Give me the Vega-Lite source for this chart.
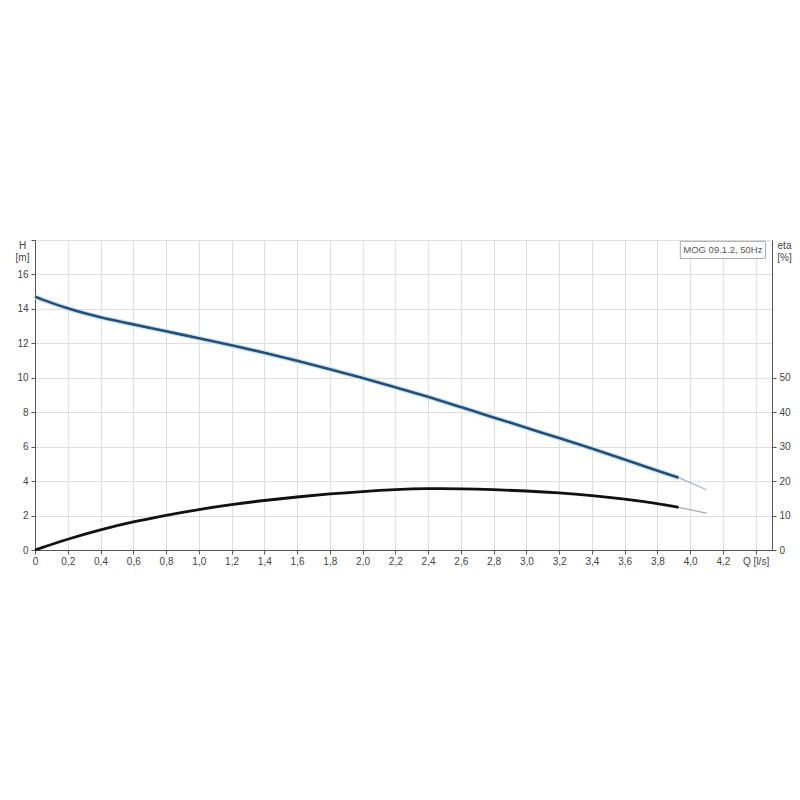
{
  "$schema": "https://vega.github.io/schema/vega-lite/v6.json",
  "autosize": {"type": "none"},
  "padding": {"left": 35, "top": 240, "right": 28, "bottom": 250},
  "width": 737,
  "height": 310,
  "background": "white",
  "config": {
    "font": "Liberation Sans",
    "view": {"stroke": null},
    "axis": {"labelFont": "Liberation Sans", "titleFont": "Liberation Sans", "labelFontSize": 10, "labelColor": "#444", "titleColor": "#444", "titleFontSize": 10, "titleFontWeight": "normal", "domainColor": "#555", "tickColor": "#555", "gridColor": "#dedede", "gridWidth": 1, "labelOverlap": false}
  },
  "datasets": {
    "H": [
      {"Q": 0, "H": 14.7, "seg": "main"},
      {"Q": 0.2, "H": 14.0, "seg": "main"},
      {"Q": 0.4, "H": 13.5, "seg": "main"},
      {"Q": 0.6, "H": 13.1, "seg": "main"},
      {"Q": 0.8, "H": 12.7, "seg": "main"},
      {"Q": 1.0, "H": 12.3, "seg": "main"},
      {"Q": 1.2, "H": 11.9, "seg": "main"},
      {"Q": 1.4, "H": 11.45, "seg": "main"},
      {"Q": 1.6, "H": 11.0, "seg": "main"},
      {"Q": 1.8, "H": 10.5, "seg": "main"},
      {"Q": 2.0, "H": 10.0, "seg": "main"},
      {"Q": 2.2, "H": 9.45, "seg": "main"},
      {"Q": 2.4, "H": 8.9, "seg": "main"},
      {"Q": 2.6, "H": 8.3, "seg": "main"},
      {"Q": 2.8, "H": 7.7, "seg": "main"},
      {"Q": 3.0, "H": 7.1, "seg": "main"},
      {"Q": 3.2, "H": 6.5, "seg": "main"},
      {"Q": 3.4, "H": 5.9, "seg": "main"},
      {"Q": 3.6, "H": 5.25, "seg": "main"},
      {"Q": 3.8, "H": 4.6, "seg": "main"},
      {"Q": 3.93, "H": 4.2, "seg": "main"},
      {"Q": 3.93, "H": 4.2, "seg": "ext"},
      {"Q": 4.1, "H": 3.5, "seg": "ext"}
    ],
    "eta": [
      {"Q": 0, "eta": 0, "seg": "main"},
      {"Q": 0.2, "eta": 3.2, "seg": "main"},
      {"Q": 0.4, "eta": 5.9, "seg": "main"},
      {"Q": 0.6, "eta": 8.2, "seg": "main"},
      {"Q": 0.8, "eta": 10.1, "seg": "main"},
      {"Q": 1.0, "eta": 11.8, "seg": "main"},
      {"Q": 1.2, "eta": 13.2, "seg": "main"},
      {"Q": 1.4, "eta": 14.4, "seg": "main"},
      {"Q": 1.6, "eta": 15.4, "seg": "main"},
      {"Q": 1.8, "eta": 16.3, "seg": "main"},
      {"Q": 2.0, "eta": 17.0, "seg": "main"},
      {"Q": 2.2, "eta": 17.55, "seg": "main"},
      {"Q": 2.4, "eta": 17.85, "seg": "main"},
      {"Q": 2.6, "eta": 17.8, "seg": "main"},
      {"Q": 2.8, "eta": 17.55, "seg": "main"},
      {"Q": 3.0, "eta": 17.15, "seg": "main"},
      {"Q": 3.2, "eta": 16.6, "seg": "main"},
      {"Q": 3.4, "eta": 15.8, "seg": "main"},
      {"Q": 3.6, "eta": 14.8, "seg": "main"},
      {"Q": 3.8, "eta": 13.5, "seg": "main"},
      {"Q": 3.93, "eta": 12.4, "seg": "main"},
      {"Q": 3.93, "eta": 12.4, "seg": "ext"},
      {"Q": 4.1, "eta": 10.7, "seg": "ext"}
    ],
    "label": [
      {"Q": 3.94, "Q2": 4.46, "H": 16.93, "H2": 17.92, "text": "MOG 09.1.2, 50Hz"}
    ]
  },
  "encoding": {
    "x": {"field": "Q", "type": "quantitative", "scale": {"domain": [0, 4.5], "nice": false},
      "axis": {"values": [0,0.2,0.4,0.6,0.8,1.0,1.2,1.4,1.6,1.8,2.0,2.2,2.4,2.6,2.8,3.0,3.2,3.4,3.6,3.8,4.0,4.2,4.4], "title": null, "labelExpr": "datum.value > 4.3 ? 'Q [l/s]' : (datum.value == 0 ? '0' : replace(format(datum.value, '.1f'), '.', ','))", "tickSize": 4, "labelPadding": 2, "labelFlush": false, "labelOverlap": false}}
  },
  "layer": [
    {
      "data": {"name": "H"},
      "encoding": {
        "y": {"field": "H", "type": "quantitative", "scale": {"domain": [0, 18], "nice": false},
          "axis": {"values": [0,2,4,6,8,10,12,14,16,18], "labelExpr": "datum.value == 18 ? '' : datum.label", "labelOverlap": false, "tickSize": 4, "labelPadding": 3, "title": ["H", "[m]"], "titleAngle": 0, "titleX": -13, "titleY": 0, "titleAlign": "center", "titleBaseline": "top", "titleLineHeight": 12}}
      },
      "layer": [
        {
          "transform": [{"filter": "datum.seg == 'main'"}],
          "mark": {"type": "line", "color": "#cfe3f2", "strokeWidth": 5, "interpolate": "basis"}
        },
        {
          "transform": [{"filter": "datum.seg == 'main'"}],
          "mark": {"type": "line", "color": "#23507a", "strokeWidth": 2.6, "interpolate": "basis"}
        },
        {
          "transform": [{"filter": "datum.seg == 'ext'"}],
          "mark": {"type": "line", "color": "#9fb8cc", "strokeWidth": 1.3}
        },
        {
          "data": {"name": "label"},
          "mark": {"type": "rect", "fill": "white", "stroke": "#aaaaaa", "strokeWidth": 1},
          "encoding": {"x2": {"field": "Q2"}, "y2": {"field": "H2"}}
        },
        {
          "data": {"name": "label"},
          "mark": {"type": "text", "font": "Liberation Sans", "fontSize": 9.5, "color": "#555", "align": "left", "baseline": "alphabetic", "dx": 3, "dy": -5},
          "encoding": {"text": {"field": "text"}}
        }
      ]
    },
    {
      "data": {"name": "eta"},
      "encoding": {
        "y": {"field": "eta", "type": "quantitative", "scale": {"domain": [0, 90], "nice": false},
          "axis": {"orient": "right", "values": [0,10,20,30,40,50], "grid": false, "labelOverlap": false, "tickSize": 4, "labelPadding": 3, "title": ["eta", "[%]"], "titleAngle": 0, "titleX": 12, "titleY": 0, "titleAlign": "center", "titleBaseline": "top", "titleLineHeight": 12}}
      },
      "layer": [
        {
          "transform": [{"filter": "datum.seg == 'main'"}],
          "mark": {"type": "line", "color": "#111111", "strokeWidth": 2.8, "interpolate": "basis"}
        },
        {
          "transform": [{"filter": "datum.seg == 'ext'"}],
          "mark": {"type": "line", "color": "#aaaaaa", "strokeWidth": 1.3}
        }
      ]
    }
  ],
  "resolve": {"scale": {"y": "independent"}}
}
